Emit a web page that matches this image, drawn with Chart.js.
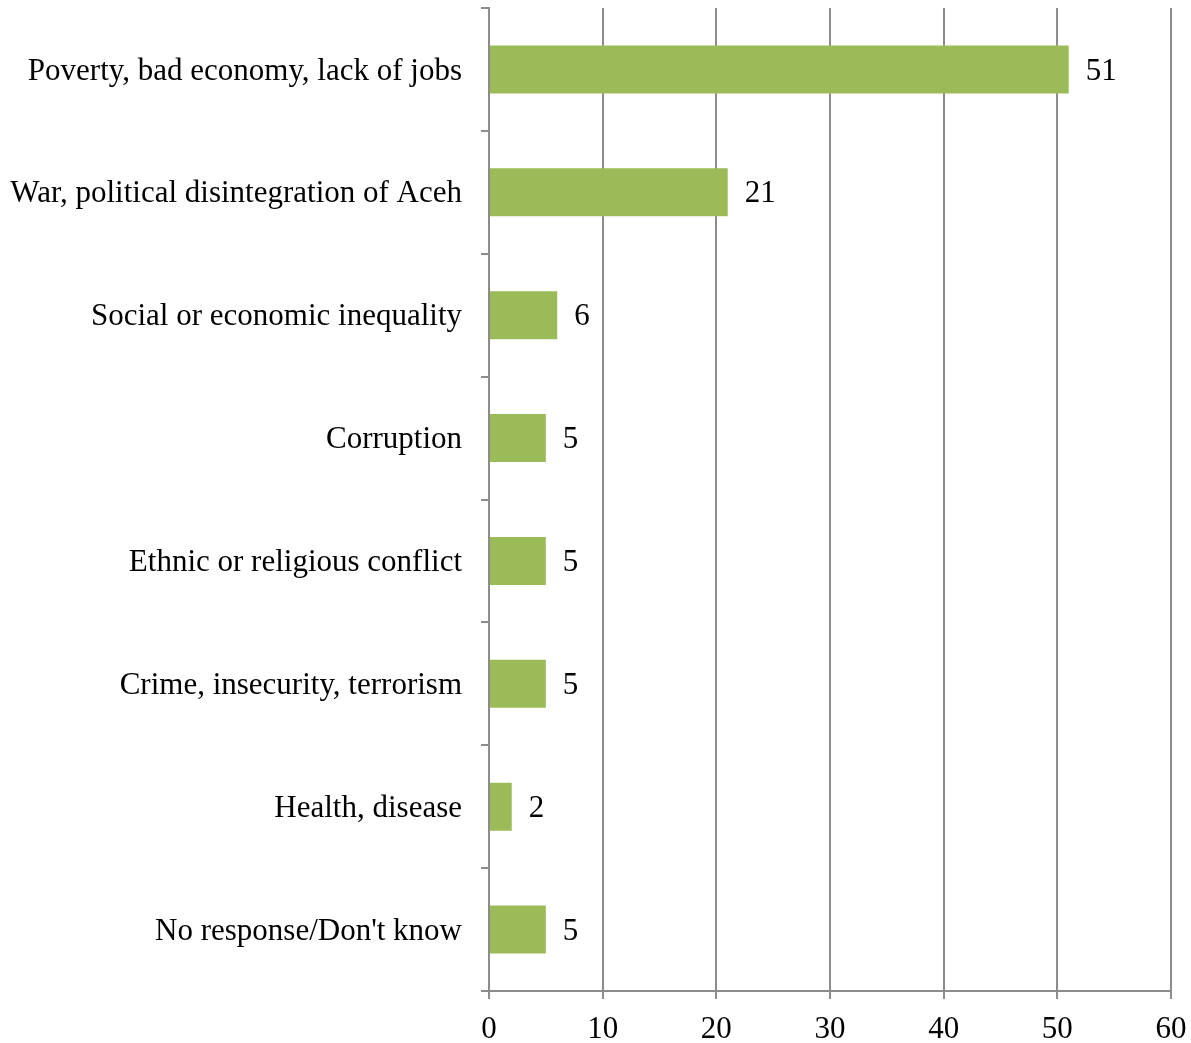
<!DOCTYPE html>
<html>
<head>
<meta charset="utf-8">
<script src="https://cdn.jsdelivr.net/npm/chart.js@4"></script>
<style>
  html, body { margin: 0; padding: 0; background: #fff; }
  #chart { display: block; }
</style>
</head>
<body>
<canvas id="chart" width="1191" height="1043"></canvas>
<script>
const categories = [
    "Poverty, bad economy, lack of jobs",
    "War, political disintegration of Aceh",
    "Social or economic inequality",
    "Corruption",
    "Ethnic or religious conflict",
    "Crime, insecurity, terrorism",
    "Health, disease",
    "No response/Don't know"
];
const values = [51, 21, 6, 5, 5, 5, 2, 5];
const xTicks = [0, 10, 20, 30, 40, 50, 60];

const fontFamily = "'Liberation Serif', 'DejaVu Serif', serif";
const fontSize = 31;
const gridColor = "#8c8c8c";

// draws the number to the right of every bar
const valueLabels = {
    id: "valueLabels",
    afterDatasetsDraw(chart) {
        const ctx = chart.ctx;
        const meta = chart.getDatasetMeta(0);
        ctx.save();
        ctx.font = fontSize + "px " + fontFamily;
        ctx.fillStyle = "#000";
        ctx.textBaseline = "middle";
        ctx.textAlign = "left";
        meta.data.forEach((bar, i) => {
            ctx.fillText(String(values[i]), bar.x + 17, bar.y + 2);
        });
        ctx.restore();
    }
};

const ctx = document.getElementById("chart").getContext("2d");
new Chart(ctx, {
    type: "bar",
    data: {
        labels: categories,
        datasets: [{
            data: values,
            backgroundColor: "#9bbb59",
            barPercentage: 0.39,
            categoryPercentage: 1
        }]
    },
    options: {
        indexAxis: "y",
        responsive: false,
        animation: false,
        layout: { padding: { top: 8, right: 20, left: 0, bottom: 0 } },
        plugins: {
            legend: { display: false },
            tooltip: { enabled: false }
        },
        scales: {
            x: {
                min: 0,
                max: 60,
                afterBuildTicks: (axis) => {
                    axis.ticks = xTicks.map(v => ({ value: v }));
                },
                afterFit: (axis) => {
                    axis.height = 52;
                    axis.paddingLeft = 0;
                    axis.paddingRight = 0;
                },
                grid: {
                    color: gridColor,
                    lineWidth: 2,
                    tickLength: 8
                },
                border: { color: gridColor, width: 2 },
                ticks: {
                    color: "#000",
                    padding: 12,
                    font: { family: fontFamily, size: fontSize }
                }
            },
            y: {
                afterFit: (axis) => {
                    axis.width = 489;
                    axis.paddingTop = 0;
                    axis.paddingBottom = 0;
                },
                grid: {
                    offset: true,
                    drawOnChartArea: false,
                    color: gridColor,
                    lineWidth: 2,
                    tickLength: 8
                },
                border: { color: gridColor, width: 2 },
                ticks: {
                    color: "#000",
                    padding: 19,
                    labelOffset: 2,
                    font: { family: fontFamily, size: fontSize }
                }
            }
        }
    },
    plugins: [valueLabels]
});
</script>
</body>
</html>
